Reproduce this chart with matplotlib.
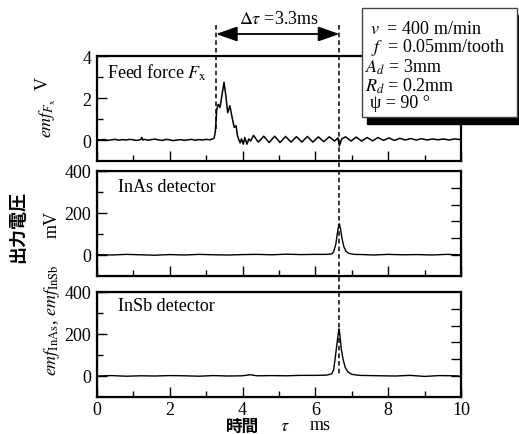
import matplotlib
matplotlib.use("Agg")
import matplotlib.pyplot as plt
from matplotlib.patches import Rectangle
from matplotlib.lines import Line2D
from matplotlib.transforms import blended_transform_factory

plt.rcParams['font.family'] = ['Liberation Serif', 'DejaVu Serif']
plt.rcParams['mathtext.fontset'] = 'stix'
plt.rcParams['font.size'] = 13

# feed force emf (V)
fx_t = [0.0, 0.1, 0.2, 0.3, 0.4, 0.5, 0.6, 0.7, 0.8, 0.9, 1.0, 1.1, 1.2, 1.23, 1.26, 1.3,
        1.4, 1.5, 1.6, 1.7, 1.8, 1.9, 2.0, 2.1, 2.2, 2.3, 2.4, 2.5, 2.6, 2.7, 2.8, 2.9,
        3.0, 3.1, 3.18, 3.22, 3.25, 3.29, 3.33, 3.38, 3.43, 3.49, 3.54, 3.59, 3.65, 3.72,
        3.77, 3.82, 3.86, 3.93, 3.97, 4.02, 4.06, 4.12, 4.17, 4.22, 4.30, 4.43,
        4.58, 4.73, 4.88, 5.03, 5.18, 5.33, 5.48, 5.63, 5.78, 5.93, 6.08, 6.23, 6.38,
        6.53, 6.62, 6.66, 6.72, 6.83, 6.98, 7.12, 7.27, 7.42, 7.57, 7.72, 7.87, 8.02,
        8.17, 8.32, 8.47, 8.62, 8.77, 8.92, 9.07, 9.22, 9.37, 9.52, 9.67, 9.82, 10.0]
fx_v = [0.02, 0.0, 0.03, -0.02, 0.01, 0.03, -0.01, 0.02, 0.0, 0.03, 0.01, -0.02, 0.02, 0.12, 0.0, 0.03,
        -0.01, 0.02, 0.04, 0.0, -0.02, 0.03, 0.01, -0.03, 0.0, 0.02, -0.02, 0.01, 0.03, -0.01, 0.02, 0.0,
        0.03, 0.01, 0.05, 0.1, 0.4, 1.45, 1.7, 1.55, 2.1, 2.75, 2.1, 1.3, 1.63, 1.0,
        0.6, 0.68, 0.2, -0.14, 0.05, -0.2, 0.12, -0.2, 0.05, -0.05, 0.22, -0.1,
        0.18, -0.12, 0.18, -0.12, 0.17, -0.1, 0.16, -0.1, 0.17, -0.1, 0.15, -0.08, 0.15,
        -0.05, 0.1, -0.28, 0.05, 0.15, -0.05, 0.14, -0.05, 0.12, -0.04, 0.12, -0.02, 0.1,
        -0.02, 0.08, 0.0, 0.07, 0.0, 0.06, 0.0, 0.05, 0.01, 0.05, 0.0, 0.05, 0.02]

# InAs detector emf (mV)
inas_t = [0.0, 0.4, 0.8, 1.2, 1.6, 2.0, 2.4, 2.8, 3.2, 3.6, 4.0, 4.4, 4.8, 5.2, 5.6, 6.0,
          6.3, 6.45, 6.50, 6.56, 6.60, 6.64, 6.66, 6.69, 6.73, 6.78, 6.84, 6.92, 7.05,
          7.3, 7.6, 8.0, 8.4, 8.8, 9.2, 9.6, 10.0]
inas_v = [2, 0, 3, 1, -1, 2, 0, 3, 1, 0, 2, 3, 1, 4, 2, 3,
          3, 5, 15, 50, 100, 140, 148, 125, 80, 40, 17, 8, 3,
          2, 0, 3, 1, 2, 0, 3, 1]

# InSb detector emf (mV)
insb_t = [0.0, 0.4, 0.8, 1.2, 1.6, 2.0, 2.4, 2.8, 3.2, 3.6, 4.0, 4.2, 4.4, 4.8, 5.2, 5.6, 6.0,
          6.3, 6.45, 6.50, 6.54, 6.59, 6.63, 6.65, 6.67, 6.71, 6.76, 6.82, 6.90, 7.0, 7.2,
          7.5, 7.8, 8.2, 8.6, 9.0, 9.4, 9.8, 10.0]
insb_v = [0, 2, -1, 1, 0, 2, 1, -1, 2, 0, 1, 6, 1, 2, 1, 3, 3,
          4, 10, 30, 80, 150, 205, 224, 200, 130, 80, 40, 18, 8, 3,
          2, 1, 0, 3, -2, 2, 1, -1]

t_start = 3.27
t_end = 6.66

W, H = 519, 435
fig = plt.figure(figsize=(W / 100, H / 100), dpi=100)

def px(x, y):
    return x / W, 1 - y / H

left, width, height = 97 / W, 364 / W, 105 / H
ax1 = fig.add_axes([left, 1 - 162 / H, width, height])
ax2 = fig.add_axes([left, 1 - 277 / H, width, height])
ax3 = fig.add_axes([left, 1 - 398 / H, width, height])

ax1.plot(fx_t, fx_v, color='black', lw=1.1)
ax2.plot(inas_t, inas_v, color='black', lw=1.0)
ax3.plot(insb_t, insb_v, color='black', lw=1.0)

ax1.set_ylim(-1, 4)
ax1.set_yticks([0, 2, 4])
ax1.set_yticks([1, 3], minor=True)
for ax in (ax2, ax3):
    ax.set_ylim(-100, 400)
    ax.set_yticks([0, 200, 400])
    ax.set_yticks([100, 300], minor=True)

for ax in (ax1, ax2, ax3):
    ax.set_xlim(0, 10)
    ax.set_xticks(range(0, 11, 2))
    ax.set_xticks(range(1, 10, 2), minor=True)
    ax.tick_params(which='both', direction='in', top=False, right=False, width=1, pad=4,
                   labelsize=13)
    ax.tick_params(axis='x', pad=3)
    ax.tick_params(which='major', length=7.5)
    ax.tick_params(which='minor', length=4.5)
    for s in ax.spines.values():
        s.set_linewidth(1.6)
    if ax is not ax3:
        ax.set_xticklabels([])

# right-hand ticks of the detector panels
for ax in (ax2, ax3):
    tw = ax.twinx()
    tw.set_ylim(-1.25, 5)
    tw.set_yticks([0, 1, 2, 3, 4])
    tw.set_yticklabels([])
    tw.tick_params(direction='in', length=7.5, width=1)

ax1.text(0.027, 0.848, r'Feed force $F_{\mathrm{x}}$', transform=ax1.transAxes, va='center', ha='left')
ax2.text(0.058, 0.848, 'InAs detector', transform=ax2.transAxes, va='center', ha='left')
ax3.text(0.058, 0.876, 'InSb detector', transform=ax3.transAxes, va='center', ha='left')

# dashed markers and arrow
tr = blended_transform_factory(ax1.transData, fig.transFigure)
fig.add_artist(Line2D([t_start, t_start], [1 - 26 / H, 1 - 133 / H], transform=tr,
                      color='black', lw=1.1, ls=(0, (3, 2))))
fig.add_artist(Line2D([t_end, t_end], [1 - 26 / H, 1 - 376 / H], transform=tr,
                      color='black', lw=1.1, ls=(0, (3, 2))))
ax1.annotate('', xy=(t_start, 1 - 35 / H), xytext=(t_end, 1 - 35 / H),
             xycoords=tr, textcoords=tr, annotation_clip=False,
             arrowprops=dict(arrowstyle='<|-|>,head_length=1.0,head_width=0.35',
                             color='black', lw=1.3, shrinkA=0, shrinkB=0))
fig.text(*px(279, 20), r'$\Delta\tau$ =3.3ms', ha='center', va='center')

# condition box with shadow
fig.patches.append(Rectangle(px(367, 125), 155 / W, 109 / H, transform=fig.transFigure,
                             facecolor='black', edgecolor='black', zorder=5))
fig.patches.append(Rectangle(px(362, 118), 155 / W, 109 / H, transform=fig.transFigure,
                             facecolor='white', edgecolor='#444444', lw=1.0, zorder=6))
box_lines = [r'$v$  = 400 m/min', r'$f$  = 0.05mm/tooth', r'$A_d$ = 3mm', r'$R_d$ = 0.2mm', 'ψ = 90 °']
box_x = [370, 371, 365, 365, 370]
box_y = [29, 48, 67, 86, 104]
for s, bx, by in zip(box_lines, box_x, box_y):
    fig.text(*px(bx, by), s, ha='left', va='center', zorder=7, fontsize=13)

# axis labels
fig.text(*px(43, 84), 'V', rotation=90, ha='center', va='center')
fig.text(*px(48, 118), r'$emf_{F_{\mathrm{x}}}$', rotation=90, ha='center', va='center')
fig.text(*px(52, 225), 'mV', rotation=90, ha='center', va='center')
fig.text(*px(52, 320), r'$emf_{\mathrm{InAs}}$, $emf_{\mathrm{InSb}}$', rotation=90, ha='center', va='center')
fig.text(*px(18, 227), '出力電圧', rotation=90, ha='center', va='center',
         family=['Noto Sans CJK JP'], fontsize=13, weight='bold')
fig.text(*px(243, 427), '時間', ha='center', va='center', family=['Noto Sans CJK JP'], fontsize=12, weight='bold')
fig.text(*px(285, 427), r'$\tau$', ha='center', va='center')
fig.text(*px(320, 426), 'ms', ha='center', va='center')

fig.savefig('out.png', dpi=100)
